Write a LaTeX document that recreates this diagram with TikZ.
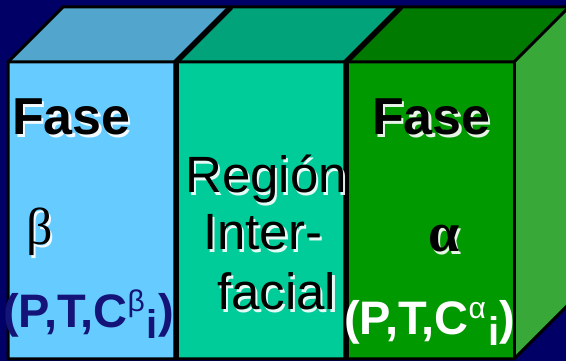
\documentclass[tikz,border=0pt]{standalone}
\usepackage{fontspec}
\setmainfont{Liberation Sans}
\newfontfamily\greekserif{Liberation Serif}

\definecolor{bgnavy}{RGB}{0,0,102}
\definecolor{betafront}{RGB}{102,204,255}
\definecolor{betatop}{RGB}{82,165,204}
\definecolor{midfront}{RGB}{0,204,153}
\definecolor{midtop}{RGB}{0,163,122}
\definecolor{alphafront}{RGB}{0,153,0}
\definecolor{alphatop}{RGB}{0,122,0}
\definecolor{alphaside}{RGB}{56,168,56}
\definecolor{tupleblue}{RGB}{20,20,120}

\tikzset{
  rim/.style={draw=black, line width=3pt, line join=miter},
  seam/.style={draw=black, line width=5.5pt},
  txt/.style={inner sep=0pt, anchor=base west},
  halo/.style={text=white, opacity=0.9},
  tuple/.style={txt, font=\fontsize{47}{50}\selectfont\bfseries},
}

% text with a soft white drop shadow behind it
\newcommand{\shadowed}[4]{%
  \node[#3, halo] (#1sh) at ($(#2)+(2.2,-2.2)$) {#4};
  \node[#3] (#1) at (#2) {#4};
}
% raised phase letter followed by a lowered component index
\newcommand{\phaseidx}[1]{%
  \raisebox{16pt}{\fontsize{30}{30}\selectfont\mdseries #1}\hspace{2pt}%
  \raisebox{-11pt}{\fontsize{40}{40}\selectfont i}}

\usetikzlibrary{calc}

\begin{document}
\begin{tikzpicture}[x=1pt,y=1pt]
\useasboundingbox (0,0) rectangle (566,361);
\fill[bgnavy] (0,0) rectangle (566,361);

\begin{scope}
\clip (0,0) rectangle (566,361);

% front corners
\coordinate (a0) at (8,2);   \coordinate (a1) at (8,299);
\coordinate (b0) at (176,2); \coordinate (b1) at (176,299);
\coordinate (c0) at (346,2); \coordinate (c1) at (346,299);
\coordinate (d0) at (514,2); \coordinate (d1) at (514,299);
% back corners (depth offset)
\coordinate (a2) at ($(a1)+(55,55)$);
\coordinate (b2) at ($(b1)+(55,55)$);
\coordinate (c2) at ($(c1)+(55,55)$);
\coordinate (d2) at ($(d1)+(55,55)$);
\coordinate (d3) at ($(d0)+(55,55)$);

% faces
\fill[betafront] (a0) rectangle (b1);
\fill[midfront] (b0) rectangle (c1);
\fill[alphafront] (c0) rectangle (d1);
\fill[betatop] (a1) -- (b1) -- (b2) -- (a2) -- cycle;
\fill[midtop] (b1) -- (c1) -- (c2) -- (b2) -- cycle;
\fill[alphatop] (c1) -- (d1) -- (d2) -- (c2) -- cycle;
\fill[alphaside] (d0) -- (d3) -- (d2) -- (d1) -- cycle;

% outline
\draw[rim] (a0) -- (a1) -- (a2) -- (d2) -- (d3) -- (d0) -- cycle;
\draw[rim] (a1) -- (d1) -- (d2);
\draw[rim] (d1) -- (d0);
\draw[seam] (b0) -- (b1) -- (b2);
\draw[seam] (c0) -- (c1) -- (c2);
\end{scope}

% labels of the beta phase
\shadowed{fasel}{12,226}{txt, font=\fontsize{52}{60}\selectfont\bfseries}{Fase}
\shadowed{betal}{26,116}{txt, font=\fontsize{52}{56}\selectfont\greekserif}{β}
\node[tuple, text=tupleblue] (tupb) at (3,33) {(P,T,C\phaseidx{β})};

% labels of the interfacial region
\shadowed{reg1}{185,168}{txt, font=\fontsize{51}{58}\selectfont}{Región}
\shadowed{reg2}{203,111}{txt, font=\fontsize{51}{58}\selectfont}{Inter-}
\shadowed{reg3}{217,51}{txt, font=\fontsize{51}{58}\selectfont}{facial}

% labels of the alpha phase
\shadowed{fasea}{372,226}{txt, font=\fontsize{52}{60}\selectfont\bfseries}{Fase}
\shadowed{alphal}{428,109}{txt, font=\fontsize{56}{60}\selectfont\greekserif\bfseries}{α}
\node[tuple, text=white] (tupa) at (344,26) {(P,T,C\phaseidx{α})};
\end{tikzpicture}
\end{document}
